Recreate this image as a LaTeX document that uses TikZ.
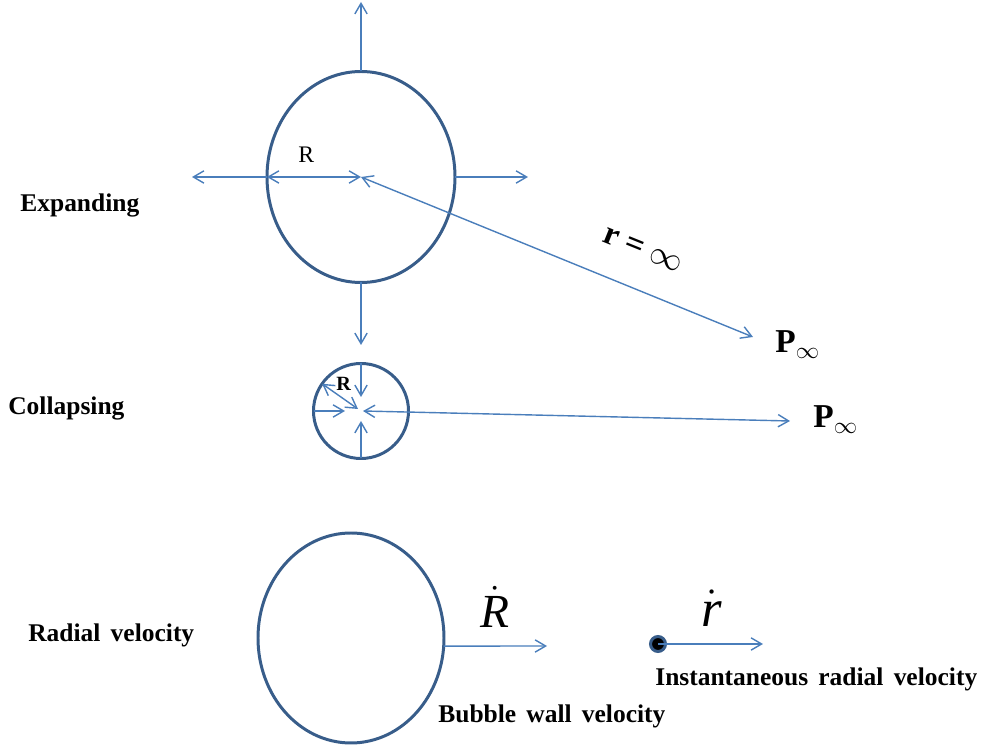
\documentclass[tikz,border=0pt]{standalone}
\usepackage{fix-cm}
\usepackage{fontspec}
\setmainfont{Liberation Serif}
\usepackage{tikz}
\usetikzlibrary{shapes.geometric, arrows.meta, positioning}
\definecolor{cWall}{RGB}{56,93,138}
\definecolor{cArrow}{RGB}{74,126,187}
\newcommand{\widesp}{\spaceskip=0.4em\relax}
\tikzset{
	bubble/.style   ={draw=cWall, line width=1.7pt, inner sep=0pt, outer sep=0pt},
	push/.style     ={-{Straight Barb[length=6pt, width=7pt]}, draw=cArrow, line width=0.8pt},
	both/.style     ={{Straight Barb[length=6pt, width=7pt]}-{Straight Barb[length=6pt, width=7pt]}, draw=cArrow, line width=0.8pt},
	lbl/.style      ={font=\fontsize{14.5}{17}\selectfont\bfseries\widesp, anchor=base west, inner sep=0pt},
	pinf/.style     ={font=\fontsize{19}{22}\selectfont, anchor=base west, inner sep=0pt},
	vlbl/.style     ={anchor=base west, inner sep=0pt},
}
\begin{document}
\begin{tikzpicture}[x=0.2mm, y=-0.2mm]
	\useasboundingbox (0,0) rectangle (982,749);
	% expanding bubble
	\node[bubble, ellipse, minimum width=37.6mm, minimum height=42.2mm] (expand) at (361,177) {};
	\coordinate (eUp) at (361,2);
	\coordinate (eDown) at (361,345);
	\coordinate (eLeft) at (192,177);
	\coordinate (eRight) at (528,177);
	\coordinate (pTop) at (753,337);
	\draw[push] (expand.north) -- (eUp);
	\draw[push] (expand.south) -- (eDown);
	\draw[push] (expand.west) -- (eLeft);
	\draw[push] (expand.east) -- (eRight);
	\draw[both] (expand.west) -- (expand.center);
	\draw[both] (expand.center) -- (pTop);
	\node[vlbl, font=\fontsize{13.5}{16}\selectfont] (rExp) at (298,163) {R};
	\node[rotate=-22, font=\fontsize{19}{22}\selectfont] (rInf) at (643,250) {\textbf{r =} $\infty$};
	\node[pinf] (pinfA) at (775,353) {\textbf{P}$_\infty$};
	\node[lbl] (lExp) at (20,212) {Expanding};
	% collapsing bubble
	\node[bubble, circle, minimum size=19mm] (collapse) at (361,411) {};
	\coordinate (cTop) at (361,397);
	\coordinate (cLeft) at (345,411);
	\coordinate (cBot) at (361,421);
	\coordinate (cMid) at (358,409);
	\coordinate (cRight) at (363,411);
	\coordinate (pBot) at (790,421);
	\draw[push] (collapse.north) -- (cTop);
	\draw[push] (collapse.west) -- (cLeft);
	\draw[push] (collapse.south) -- (cBot);
	\draw[both] (collapse.145) -- (cMid);
	\draw[both] (cRight) -- (pBot);
	\node[vlbl, font=\fontsize{11.5}{13}\selectfont\bfseries] (rCol) at (336,391) {R};
	\node[pinf] (pinfB) at (813,428) {\textbf{P}$_\infty$};
	\node[lbl] (lCol) at (8,415) {Collapsing};
	% radial velocity
	\node[bubble, ellipse, minimum width=37.2mm, minimum height=42mm] (radial) at (351,638) {};
	\coordinate (wTip) at (547,646);
	\draw[push] (radial.-5) -- (wTip);
	\node[vlbl, font=\fontsize{27}{30}\selectfont] (Rdot) at (480,628) {$\dot{\mbox{\itshape R}}$};
	\node[circle, fill=black, draw=cWall, line width=1.7pt, minimum size=3mm, inner sep=0pt] (pt) at (658,644) {};
	\coordinate (rTip) at (763,644);
	\draw[push] (pt.center) -- (rTip);
	\node[vlbl, font=\fontsize{30}{33}\selectfont] (rdot) at (701,627) {$\dot{\mbox{\itshape r}}$};
	\node[lbl] (lRad) at (28,642) {Radial velocity};
	\node[lbl] (lInst) at (655,686) {Instantaneous radial velocity};
	\node[lbl] (lWall) at (438,723) {Bubble wall velocity};
\end{tikzpicture}
\end{document}
